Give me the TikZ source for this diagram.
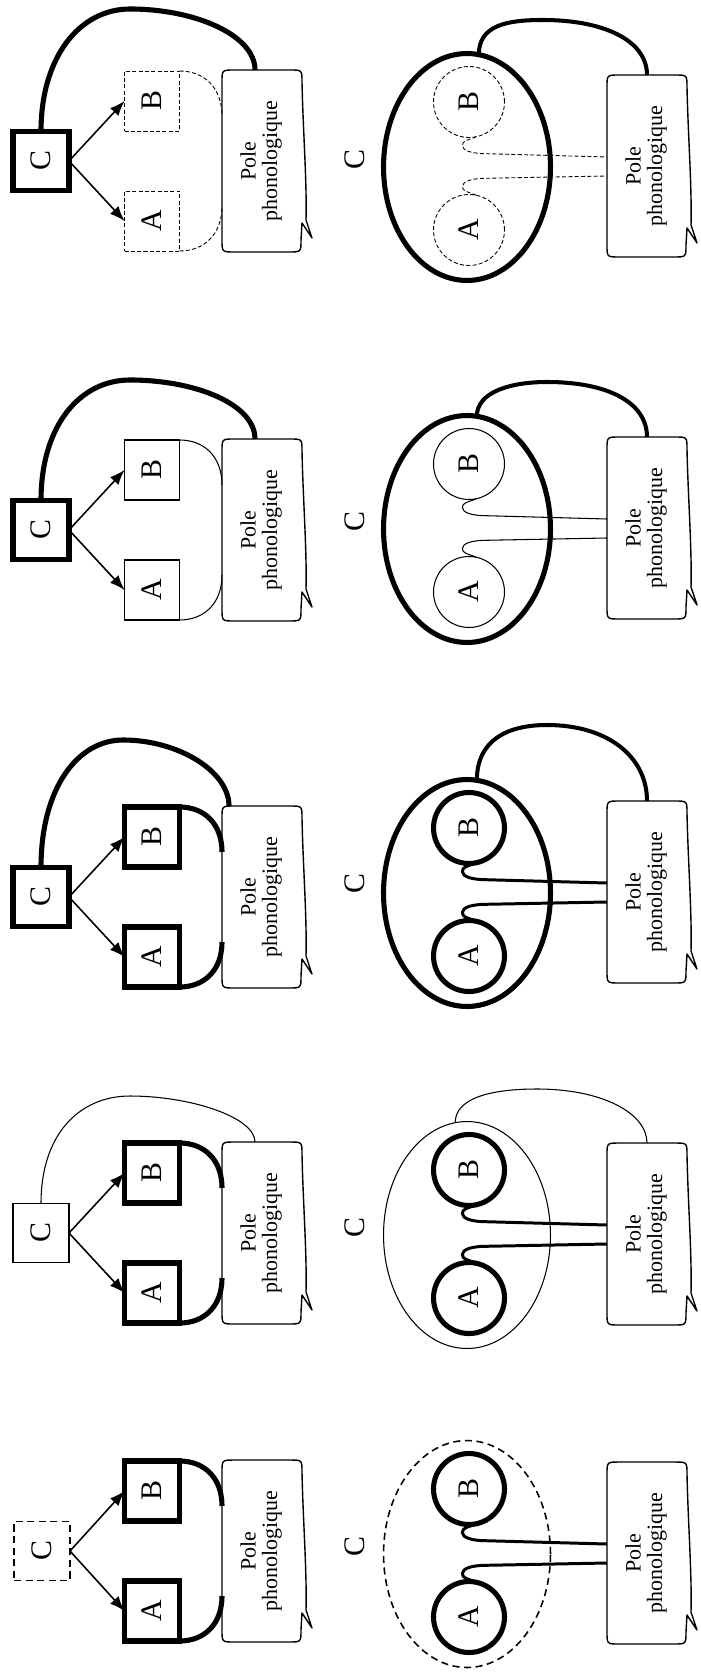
\documentclass[tikz,border=0pt]{standalone}
\usepackage{fontspec}
\setmainfont{Liberation Serif}
\usetikzlibrary{positioning, calc, arrows.meta, shapes.geometric}

\newcommand{\letterfont}{\fontsize{17}{20}\selectfont}
\newcommand{\polefont}{\fontsize{12.5}{12}\selectfont}
\newcommand{\turned}[1]{\rotatebox{90}{#1}}
\newcommand{\poletext}{\turned{\begin{tabular}{@{}c@{}}Pole\\phonologique\end{tabular}}}

% callout outline round a pole node
\newcommand{\poleshape}[1]{%
  \draw[poleline] (#1.west) -- ($(#1.north west)+(0,12)$) .. controls (#1.north west) .. ($(#1.north west)+(12,0)$)
    -- ($(#1.north east)+(-12,0)$) .. controls (#1.north east) .. ($(#1.north east)+(0,12)$)
    .. controls ($(#1.north east)+(1,60)$) and ($(#1.south east)+(5,-70)$) .. ($(#1.south east)+(4,-32)$)
    -- ($(#1.south east)+(10,-14)$) -- ($(#1.south east)+(0,-29)$)
    -- ($(#1.south east)+(-1,-12)$) .. controls ($(#1.south east)+(-1,0)$) .. ($(#1.south east)+(-13,0)$)
    -- ($(#1.south west)+(12,0)$) .. controls (#1.south west) .. ($(#1.south west)+(0,-12)$) -- cycle;}

\begin{document}
\begin{tikzpicture}[x=0.02cm, y=-0.02cm,
    heavyline/.style={line width=2.9pt},
    boldline/.style={line width=2.3pt},
    midline/.style={line width=1.7pt},
    lightline/.style={line width=0.6pt},
    poleline/.style={line width=0.8pt, line join=round},
    dashlight/.style={line width=0.5pt, dash pattern=on 2.3pt off 1.3pt},
    dashmid/.style={line width=0.9pt, dash pattern=on 4pt off 2.6pt},
    lettbox/.style={draw, minimum width=1.1cm, minimum height=1.2cm, inner sep=0pt, outer sep=0pt, font=\letterfont},
    cbox/.style={lettbox, minimum width=1.12cm, minimum height=1.18cm},
    ring/.style={circle, draw, minimum size=1.42cm, inner sep=0pt, outer sep=0pt, font=\letterfont},
    zone/.style={ellipse, draw, minimum width=3.34cm, minimum height=4.54cm, inner sep=0pt, outer sep=0pt},
    polenode/.style={minimum width=1.6cm, minimum height=3.64cm, inner sep=0pt, outer sep=0pt, font=\polefont},
    letter/.style={inner sep=0pt, font=\letterfont},
    arrowline/.style={-{Latex[length=8.5pt,width=6.5pt]}, line width=0.9pt}]

    \useasboundingbox (0,0) rectangle (700,1675);

    % ---------- Panel 1 ----------
    \node[cbox, heavyline] (c1) at (41,161) {\turned{C}};
    \node[lettbox, dashlight] (b1) at (152,101) {\turned{B}};
    \node[lettbox, dashlight] (a1) at (152,221) {\turned{A}};
    \node[polenode] (pl1) at (262,161) {\poletext};
    \poleshape{pl1}
    \draw[arrowline] (c1.east) -- (b1.west);
    \draw[arrowline] (c1.east) -- (a1.west);
    \draw[dashlight] (b1.north east) .. controls +(25,0) and +(0,-28) .. ([yshift=.9cm]pl1.west);
    \draw[dashlight] (a1.south east) .. controls +(25,0) and +(0,28) .. ([yshift=-.9cm]pl1.west);
    \draw[heavyline] (c1.north) .. controls +(0,-75) and +(-50,0) .. (130,9)
        .. controls +(65,0) and +(0,-35) .. ([xshift=-.14cm]pl1.north);

    % ellipse side
    \node[letter] (cl1) at (355,160) {\turned{C}};
    \node[zone, heavyline] (e1) at (467,167) {};
    \node[ring, dashlight] (rb1) at (469,102) {\turned{B}};
    \node[ring, dashlight] (ra1) at (469,230) {\turned{A}};
    \node[polenode] (pr1) at (647,166) {\poletext};
    \poleshape{pr1}
    \draw[dashlight] (rb1.-78) .. controls +(-10,4) and +(0,-5) .. ++(-14,9)
        .. controls +(0,5) and +(-14,0) .. ++(24,8) -- ([yshift=.18cm]pr1.west);
    \draw[dashlight] (ra1.78) .. controls +(-10,-4) and +(0,5) .. ++(-14,-9)
        .. controls +(0,-5) and +(-14,0) .. ++(24,-8) -- ([yshift=-.2cm]pr1.west);
    \draw[boldline] (e1.84) .. controls +(0,-30) and +(-35,0) .. (543,20)
        .. controls +(60,0) and +(0,-35) .. (pr1.north);

    % ---------- Panel 2 ----------
    \node[cbox, heavyline] (c2) at (41,530) {\turned{C}};
    \node[lettbox, lightline] (b2) at (152,470) {\turned{B}};
    \node[lettbox, lightline] (a2) at (152,590) {\turned{A}};
    \node[polenode] (pl2) at (262,530) {\poletext};
    \poleshape{pl2}
    \draw[arrowline] (c2.east) -- (b2.west);
    \draw[arrowline] (c2.east) -- (a2.west);
    \draw[lightline] (b2.north east) .. controls +(25,0) and +(0,-28) .. ([yshift=.9cm]pl2.west);
    \draw[lightline] (a2.south east) .. controls +(25,0) and +(0,28) .. ([yshift=-.9cm]pl2.west);
    \draw[heavyline] (c2.north) .. controls +(0,-75) and +(-50,0) .. (130,380)
        .. controls +(65,0) and +(0,-35) .. ([xshift=-.14cm]pl2.north);

    % ellipse side
    \node[letter] (cl2) at (355,522) {\turned{C}};
    \node[zone, heavyline] (e2) at (467,529) {};
    \node[ring, lightline] (rb2) at (469,464) {\turned{B}};
    \node[ring, lightline] (ra2) at (469,592) {\turned{A}};
    \node[polenode] (pr2) at (647,528) {\poletext};
    \poleshape{pr2}
    \draw[lightline] (rb2.-78) .. controls +(-10,4) and +(0,-5) .. ++(-14,9)
        .. controls +(0,5) and +(-14,0) .. ++(24,8) -- ([yshift=.18cm]pr2.west);
    \draw[lightline] (ra2.78) .. controls +(-10,-4) and +(0,5) .. ++(-14,-9)
        .. controls +(0,-5) and +(-14,0) .. ++(24,-8) -- ([yshift=-.2cm]pr2.west);
    \draw[boldline] (e2.85) .. controls +(0,-25) and +(-35,0) .. (547,382)
        .. controls +(60,0) and +(0,-35) .. (pr2.north);

    % ---------- Panel 3 ----------
    \node[cbox, heavyline] (c3) at (41,897) {\turned{C}};
    \node[lettbox, heavyline] (b3) at (152,837) {\turned{B}};
    \node[lettbox, heavyline] (a3) at (152,957) {\turned{A}};
    \node[polenode] (pl3) at (262,897) {\poletext};
    \poleshape{pl3}
    \draw[arrowline] (c3.east) -- (b3.west);
    \draw[arrowline] (c3.east) -- (a3.west);
    \draw[heavyline] (b3.north east) .. controls +(25,0) and +(0,-28) .. ([yshift=.9cm]pl3.west);
    \draw[heavyline] (a3.south east) .. controls +(25,0) and +(0,28) .. ([yshift=-.9cm]pl3.west);
    \draw[heavyline] (c3.north) .. controls +(0,-80) and +(-45,0) .. (123,740)
        .. controls +(55,0) and +(0,-35) .. ([xshift=-.66cm]pl3.north);

    % ellipse side
    \node[letter] (cl3) at (355,884) {\turned{C}};
    \node[zone, heavyline] (e3) at (467,893) {};
    \node[ring, heavyline] (rb3) at (469,828) {\turned{B}};
    \node[ring, heavyline] (ra3) at (469,956) {\turned{A}};
    \node[polenode] (pr3) at (647,892) {\poletext};
    \poleshape{pr3}
    \draw[midline] (rb3.-78) .. controls +(-10,4) and +(0,-5) .. ++(-14,9)
        .. controls +(0,5) and +(-14,0) .. ++(24,8) -- ([yshift=.18cm]pr3.west);
    \draw[midline] (ra3.78) .. controls +(-10,-4) and +(0,5) .. ++(-14,-9)
        .. controls +(0,-5) and +(-14,0) .. ++(24,-8) -- ([yshift=-.2cm]pr3.west);
    \draw[boldline] (e3.85) .. controls +(0,-40) and +(-40,0) .. (547,725)
        .. controls +(60,0) and +(0,-45) .. (pr3.north);

    % ---------- Panel 4 ----------
    \node[cbox, lightline] (c4) at (41,1233) {\turned{C}};
    \node[lettbox, heavyline] (b4) at (152,1173) {\turned{B}};
    \node[lettbox, heavyline] (a4) at (152,1293) {\turned{A}};
    \node[polenode] (pl4) at (262,1233) {\poletext};
    \poleshape{pl4}
    \draw[arrowline] (c4.east) -- (b4.west);
    \draw[arrowline] (c4.east) -- (a4.west);
    \draw[heavyline] (b4.north east) .. controls +(25,0) and +(0,-28) .. ([yshift=.9cm]pl4.west);
    \draw[heavyline] (a4.south east) .. controls +(25,0) and +(0,28) .. ([yshift=-.9cm]pl4.west);
    \draw[lightline] (c4.north) .. controls +(0,-70) and +(-50,0) .. (130,1096)
        .. controls +(60,0) and +(0,-25) .. ([xshift=-.14cm]pl4.north);

    % ellipse side
    \node[letter] (cl4) at (355,1228) {\turned{C}};
    \node[zone, lightline] (e4) at (467,1235) {};
    \node[ring, heavyline] (rb4) at (469,1170) {\turned{B}};
    \node[ring, heavyline] (ra4) at (469,1298) {\turned{A}};
    \node[polenode] (pr4) at (647,1234) {\poletext};
    \poleshape{pr4}
    \draw[midline] (rb4.-78) .. controls +(-10,4) and +(0,-5) .. ++(-14,9)
        .. controls +(0,5) and +(-14,0) .. ++(24,8) -- ([yshift=.18cm]pr4.west);
    \draw[midline] (ra4.78) .. controls +(-10,-4) and +(0,5) .. ++(-14,-9)
        .. controls +(0,-5) and +(-14,0) .. ++(24,-8) -- ([yshift=-.2cm]pr4.west);
    \draw[lightline] (e4.96) .. controls +(0,-25) and +(-45,0) .. (537,1089)
        .. controls +(65,0) and +(0,-30) .. (pr4.north);

    % ---------- Panel 5 ----------
    \node[cbox, dashmid] (c5) at (42,1551) {\turned{C}};
    \node[lettbox, heavyline] (b5) at (152,1491) {\turned{B}};
    \node[lettbox, heavyline] (a5) at (152,1611) {\turned{A}};
    \node[polenode] (pl5) at (262,1551) {\poletext};
    \poleshape{pl5}
    \draw[arrowline] (c5.east) -- (b5.west);
    \draw[arrowline] (c5.east) -- (a5.west);
    \draw[heavyline] (b5.north east) .. controls +(25,0) and +(0,-28) .. ([yshift=.9cm]pl5.west);
    \draw[heavyline] (a5.south east) .. controls +(25,0) and +(0,28) .. ([yshift=-.9cm]pl5.west);

    % ellipse side
    \node[letter] (cl5) at (355,1547) {\turned{C}};
    \node[zone, dashmid] (e5) at (467,1554) {};
    \node[ring, heavyline] (rb5) at (469,1489) {\turned{B}};
    \node[ring, heavyline] (ra5) at (469,1617) {\turned{A}};
    \node[polenode] (pr5) at (647,1553) {\poletext};
    \poleshape{pr5}
    \draw[midline] (rb5.-78) .. controls +(-10,4) and +(0,-5) .. ++(-14,9)
        .. controls +(0,5) and +(-14,0) .. ++(24,8) -- ([yshift=.18cm]pr5.west);
    \draw[midline] (ra5.78) .. controls +(-10,-4) and +(0,5) .. ++(-14,-9)
        .. controls +(0,-5) and +(-14,0) .. ++(24,-8) -- ([yshift=-.2cm]pr5.west);

\end{tikzpicture}
\end{document}
